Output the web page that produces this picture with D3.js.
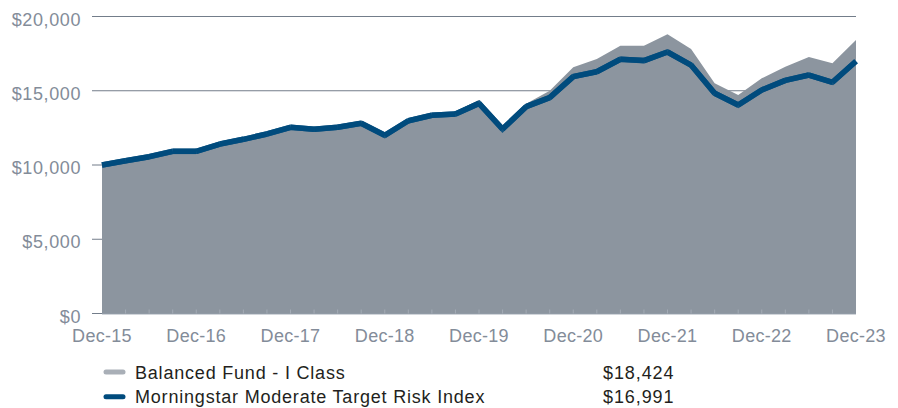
<!DOCTYPE html>
<html>
<head>
<meta charset="utf-8">
<script src="https://cdn.jsdelivr.net/npm/d3@7"></script>
<style>
  body { margin: 0; background: #fff; }
  svg { display: block; font-family: "Liberation Sans", Arial, sans-serif; }
</style>
</head>
<body>
<div id="chart"></div>
<script>
// quarter-end dates, Dec-15 .. Dec-23
var quarters = d3.range(33);
var yearLabels = ["Dec-15", "Dec-16", "Dec-17", "Dec-18", "Dec-19", "Dec-20", "Dec-21", "Dec-22", "Dec-23"];
var yTicks = [0, 5000, 10000, 15000, 20000];

// growth of $10,000
var fundValues = [10000, 10330, 10600, 10960, 10960, 11450, 11770, 12130, 12590,
                  12450, 12600, 12980, 12050, 13030, 13400, 13600, 14380,
                  12450, 14130, 15000, 16580, 17140, 18030, 18030, 18800,
                  17810, 15500, 14710, 15840, 16620, 17270, 16850, 18424];
var indexValues = [10000, 10290, 10560, 10920, 10920, 11410, 11730, 12090, 12540,
                   12400, 12540, 12810, 12000, 12980, 13350, 13430, 14150,
                   12420, 13930, 14540, 15950, 16280, 17120, 17030, 17610,
                   16730, 14830, 14040, 15050, 15700, 16060, 15570, 16991];

var seriesNames = ["Balanced Fund - I Class", "Morningstar Moderate Target Risk Index"];
var seriesEnd = ["$18,424", "$16,991"];

// size and margin
var width = 898;
var height = 408;
var margin = {top: 16.5, right: 42, bottom: 94.5, left: 102};
var inner_width = width - margin.left - margin.right;
var inner_height = height - margin.top - margin.bottom;

// colours
var area_color = "#8c959f";
var line_color = "#004b7d";
var grid_color = "#737d8a";
var label_color = "#838c99";
var text_color = "#231f20";
var swatch_colors = ["#a9afb7", line_color];

var svg = d3.select("#chart")
            .append("svg")
            .attr("width", width)
            .attr("height", height)
            .append("g")
            .attr("transform", "translate(" + margin.left + "," + margin.top + ")");

var xScale = d3.scaleLinear()
               .domain([0, 32])
               .range([0, inner_width]);
var yScale = d3.scaleLinear()
               .domain([0, 20000])
               .range([inner_height, 0]);

// gridlines with the little tick to the left
svg.selectAll(".grid")
   .data(yTicks)
   .enter().append("line")
   .attr("class", "grid")
   .attr("x1", -10)
   .attr("x2", inner_width)
   .attr("y1", function(d) { return yScale(d); })
   .attr("y2", function(d) { return yScale(d); })
   .attr("stroke", grid_color)
   .attr("stroke-width", 1.2);

svg.selectAll(".ylab")
   .data(yTicks)
   .enter().append("text")
   .attr("class", "ylab")
   .attr("x", -21)
   .attr("y", function(d) { return yScale(d) + 9; })
   .attr("text-anchor", "end")
   .attr("fill", label_color)
   .attr("font-size", 18)
   .attr("letter-spacing", 0.6)
   .text(function(d) { return "$" + d3.format(",")(d); });

// fund area
var area = d3.area()
             .x(function(d, i) { return xScale(i); })
             .y0(yScale(0))
             .y1(function(d) { return yScale(d); });
svg.append("path")
   .datum(fundValues)
   .attr("fill", area_color)
   .attr("d", area);

// quarter ticks along the bottom of the area
svg.selectAll(".qtick")
   .data(quarters.slice(1, 32))
   .enter().append("line")
   .attr("class", "qtick")
   .attr("x1", function(d) { return xScale(d); })
   .attr("x2", function(d) { return xScale(d); })
   .attr("y1", yScale(0) - 4)
   .attr("y2", yScale(0))
   .attr("stroke", "#a3abb5")
   .attr("stroke-width", 1);
svg.append("line")
   .attr("x1", 0)
   .attr("x2", inner_width)
   .attr("y1", yScale(0) + 0.5)
   .attr("y2", yScale(0) + 0.5)
   .attr("stroke", "#a3abb5")
   .attr("stroke-width", 1);

// index line, one segment per quarter
var segs = d3.pairs(indexValues.map(function(v, i) { return [i, v]; }));
svg.selectAll(".seg")
   .data(segs)
   .enter().append("line")
   .attr("class", "seg")
   .attr("x1", function(d) { return xScale(d[0][0]); })
   .attr("y1", function(d) { return yScale(d[0][1]); })
   .attr("x2", function(d) { return xScale(d[1][0]); })
   .attr("y2", function(d) { return yScale(d[1][1]); })
   .attr("stroke", line_color)
   .attr("stroke-width", 5.5)
   .attr("stroke-linecap", "butt");
svg.append("path")
   .datum(indexValues)
   .attr("fill", "none")
   .attr("stroke", line_color)
   .attr("stroke-width", 5.5)
   .attr("stroke-linejoin", "miter")
   .attr("stroke-opacity", 0.85)
   .attr("d", d3.line()
                .x(function(d, i) { return xScale(i); })
                .y(function(d) { return yScale(d); }));

// x labels
svg.selectAll(".xlab")
   .data(yearLabels)
   .enter().append("text")
   .attr("class", "xlab")
   .attr("x", function(d, i) { return xScale(i * 4); })
   .attr("y", inner_height + 28)
   .attr("text-anchor", "middle")
   .attr("fill", label_color)
   .attr("font-size", 18)
   .attr("letter-spacing", 0.3)
   .text(function(d) { return d; });

// legend
var legend = svg.selectAll(".legend")
                .data(seriesNames)
                .enter().append("g")
                .attr("class", "legend")
                .attr("transform", function(d, i) {
                  return "translate(0," + (inner_height + 58.5 + i * 24.7) + ")";
                });
legend.append("line")
      .attr("x1", 4)
      .attr("x2", 21)
      .attr("stroke", function(d, i) { return swatch_colors[i]; })
      .attr("stroke-width", 5)
      .attr("stroke-linecap", "round");
legend.append("text")
      .attr("x", 33)
      .attr("y", 6.5)
      .attr("fill", text_color)
      .attr("font-size", 18)
      .attr("letter-spacing", 0.8)
      .text(function(d) { return d; });
legend.append("text")
      .attr("x", 501)
      .attr("y", 6.5)
      .attr("fill", text_color)
      .attr("font-size", 18)
      .attr("letter-spacing", 0.9)
      .text(function(d, i) { return seriesEnd[i]; });
</script>
</body>
</html>
